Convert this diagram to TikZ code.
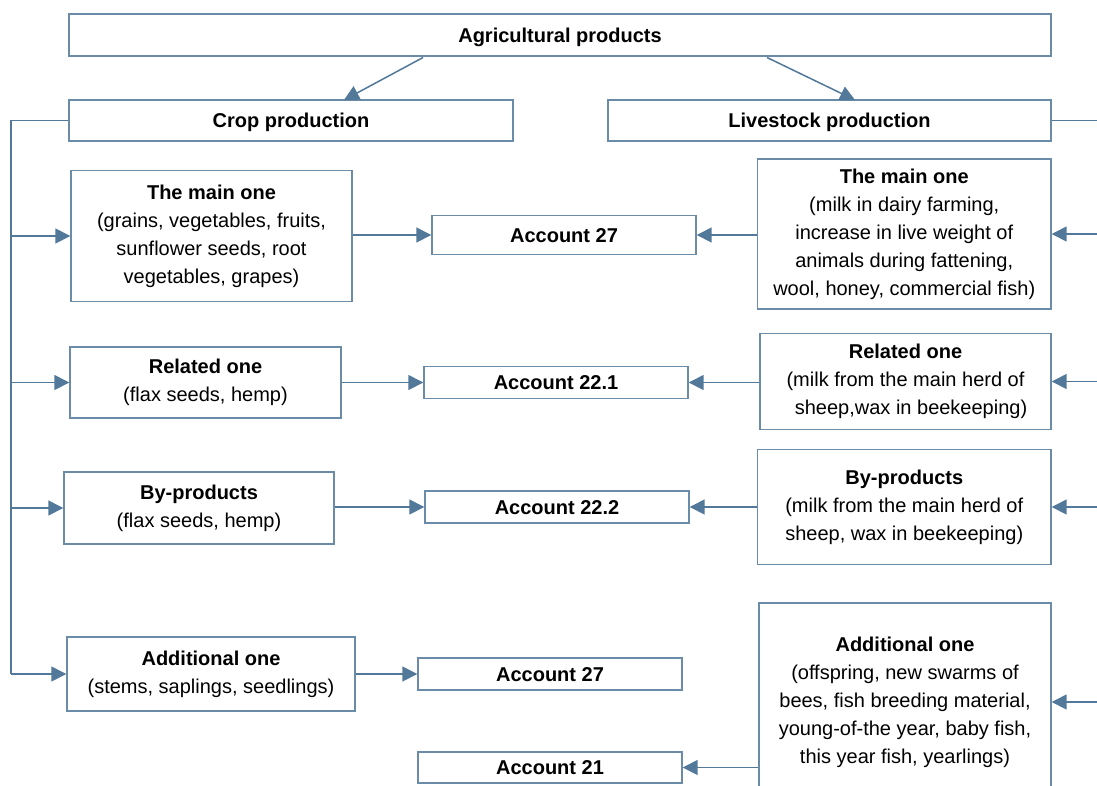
\documentclass[tikz,border=0pt]{standalone}
\usepackage{fontspec}
\setmainfont{Liberation Sans}
\usetikzlibrary{arrows.meta}
\definecolor{acol}{HTML}{52799A}
\definecolor{bcol}{HTML}{6A8CA8}
\newcommand\fsz{\fontsize{20}{28}\selectfont}
\tikzset{
  bx/.style={draw=bcol, line width=1.4pt, inner sep=0pt, align=center, font=\fsz, fill=white},
  oneline/.style={text height=14.3pt, text depth=0pt},
  arr/.style={draw=acol, line width=1.5pt, -{Triangle[length=15pt,width=15pt]}, fill=acol},
  ln/.style={draw=acol, line width=1.5pt}
}
\begin{document}
\begin{tikzpicture}[x=1pt,y=-1pt]
\useasboundingbox (0,0) rectangle (1097,785);
\clip (0,0) rectangle (1097,785);
\fill[white] (0,0) rectangle (1097,785);
% top level
\node[bx, oneline, minimum width=982pt, minimum height=42pt] (top) at (560,35) {\textbf{Agricultural products}};
\node[bx, oneline, minimum width=444pt, minimum height=41pt] (crop) at (291,120.5) {\textbf{Crop production}};
\node[bx, oneline, minimum width=443pt, minimum height=41pt] (live) at (829.5,120.5) {\textbf{Livestock production}};
% crop column
\node[bx, minimum width=281pt, minimum height=131pt] (cmain) at (211.5,236) {\textbf{The main one}\\(grains, vegetables, fruits,\\sunflower seeds, root\\vegetables, grapes)};
\node[bx, minimum width=271pt, minimum height=71pt] (crel) at (205.5,382.5) {\textbf{Related one}\\(flax seeds, hemp)};
\node[bx, minimum width=270pt, minimum height=72pt] (cby) at (199,508) {\textbf{By-products}\\(flax seeds, hemp)};
\node[bx, minimum width=288pt, minimum height=74pt] (cadd) at (211,674) {\textbf{Additional one}\\(stems, saplings, seedlings)};
% accounts
\node[bx, oneline, minimum width=264pt, minimum height=39pt] (a27) at (564,235) {\textbf{Account 27}};
\node[bx, oneline, minimum width=264pt, minimum height=32pt] (a221) at (556,382.5) {\textbf{Account 22.1}};
\node[bx, oneline, minimum width=264pt, minimum height=32pt] (a222) at (557,507) {\textbf{Account 22.2}};
\node[bx, oneline, minimum width=264pt, minimum height=32pt] (a27b) at (550,674) {\textbf{Account 27}};
\node[bx, oneline, minimum width=264pt, minimum height=31pt] (a21) at (550,767.5) {\textbf{Account 21}};
% livestock column
\node[bx, minimum width=293.5pt, minimum height=150pt] (lmain) at (904.25,234) {\textbf{The main one}\\(milk in dairy farming,\\increase in live weight of\\animals during fattening,\\wool, honey, commercial fish)};
\node[bx, minimum width=291pt, minimum height=96pt] (lrel) at (905.5,381.5) {\textbf{Related one}\\(milk from the main herd of\\\ \ sheep,wax in beekeeping)};
\node[bx, minimum width=293.5pt, minimum height=115pt] (lby) at (904.25,507) {\textbf{By-products}\\(milk from the main herd of\\sheep, wax in beekeeping)};
\node[bx, minimum width=292pt, minimum height=198pt] (ladd) at (905,702) {\textbf{Additional one}\\(offspring, new swarms of\\bees, fish breeding material,\\young-of-the year, baby fish,\\this year fish, yearlings)};
% arrows from top
\coordinate (t1) at (423,57.5);
\coordinate (t2) at (767,57.5);
\coordinate (c1) at (344,100);
\coordinate (c2) at (855,100);
\draw[arr] (t1) -- (c1);
\draw[arr] (t2) -- (c2);
% left bus
\coordinate (bt) at (11,120.5);
\coordinate (bb) at (11,674);
\draw[ln] (crop.west) -- (bt) -- (bb);
\draw[arr] (bt |- cmain.west) -- (cmain.west);
\draw[arr] (bt |- crel.west) -- (crel.west);
\draw[arr] (bt |- cby.west) -- (cby.west);
\draw[arr] (bt |- cadd.west) -- (cadd.west);
% crop to accounts
\draw[arr] (cmain.east |- a27.west) -- (a27.west);
\draw[arr] (crel.east |- a221.west) -- (a221.west);
\draw[arr] (cby.east |- a222.west) -- (a222.west);
\draw[arr] (cadd.east) -- (cadd.east -| a27b.west);
% livestock to accounts
\draw[arr] (lmain.west |- a27.east) -- (a27.east);
\draw[arr] (lrel.west |- a221.east) -- (a221.east);
\draw[arr] (lby.west |- a222.east) -- (a222.east);
\draw[arr] (ladd.west |- a21.east) -- (a21.east);
% right bus stubs
\coordinate (rb) at (1100,120.5);
\draw[ln] (live.east) -- (rb);
\draw[arr] (rb |- lmain.east) -- (lmain.east);
\draw[arr] (rb |- lrel.east) -- (lrel.east);
\draw[arr] (rb |- lby.east) -- (lby.east);
\draw[arr] (rb |- ladd.east) -- (ladd.east);
\end{tikzpicture}
\end{document}
